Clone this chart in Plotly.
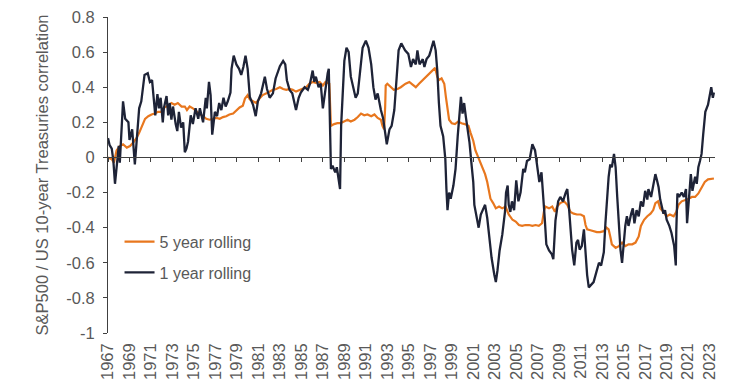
import plotly.graph_objects as go

# ---- data ----
one_year_t = [1967.0,1967.15,1967.35,1967.5,1967.65,1967.8,1968.0,1968.1,1968.4,1968.6,1968.9,1969.0,1969.25,1969.5,1969.7,1969.9,
1970.1,1970.4,1970.7,1970.9,1971.1,1971.2,1971.4,1971.6,1971.75,1971.9,1972.1,1972.2,1972.45,1972.6,1972.75,1972.9,
1973.05,1973.3,1973.45,1973.6,1973.8,1974.0,1974.15,1974.3,1974.45,1974.7,1974.9,1975.15,1975.4,1975.55,1975.85,
1976.1,1976.2,1976.4,1976.55,1976.7,1976.95,1977.15,1977.35,1977.55,1977.75,1977.95,1978.15,1978.4,1978.5,1978.7,
1978.95,1979.2,1979.4,1979.6,1979.8,1980.0,1980.2,1980.5,1980.75,1980.95,1981.25,1981.6,1981.8,1982.05,1982.35,
1982.6,1983.0,1983.3,1983.5,1983.65,1983.9,1984.15,1984.35,1984.5,1984.75,1984.95,1985.3,1985.6,1985.8,1986.05,
1986.2,1986.35,1986.6,1986.8,1987.0,1987.25,1987.45,1987.55,1987.65,1987.7,1987.75,1987.9,1988.15,1988.3,1988.45,
1988.6,1988.7,1988.85,1989.0,1989.2,1989.4,1989.6,1989.85,1990.05,1990.25,1990.4,1990.7,1991.0,1991.25,1991.5,
1991.7,1991.9,1992.1,1992.4,1992.6,1992.8,1992.95,1993.2,1993.4,1993.65,1993.85,1994.05,1994.3,1994.65,1994.95,
1995.2,1995.4,1995.65,1995.8,1996.0,1996.3,1996.45,1996.65,1996.9,1997.05,1997.3,1997.5,1997.65,1997.8,1997.95,
1998.2,1998.4,1998.5,1998.6,1998.75,1998.9,1999.15,1999.35,1999.55,1999.7,1999.85,2000.0,2000.15,2000.3,2000.45,
2000.65,2000.85,2001.0,2001.1,2001.3,2001.5,2001.7,2001.9,2002.1,2002.3,2002.5,2002.7,2002.95,2003.1,2003.25,
2003.45,2003.7,2003.95,2004.05,2004.2,2004.3,2004.45,2004.6,2004.8,2005.0,2005.2,2005.4,2005.65,2005.8,2006.0,
2006.25,2006.5,2006.75,2006.95,2007.15,2007.35,2007.5,2007.65,2007.8,2008.05,2008.3,2008.45,2008.65,2008.9,2009.1,
2009.35,2009.6,2009.75,2009.9,2010.05,2010.2,2010.4,2010.6,2010.75,2010.9,2011.1,2011.3,2011.45,2011.6,2011.75,
2012.0,2012.2,2012.45,2012.7,2012.9,2013.15,2013.3,2013.45,2013.6,2013.75,2013.9,2014.1,2014.25,2014.4,2014.55,
2014.7,2014.85,2015.0,2015.15,2015.3,2015.45,2015.7,2015.85,2016.0,2016.2,2016.4,2016.6,2016.8,2017.0,2017.2,
2017.3,2017.55,2017.75,2017.95,2018.1,2018.25,2018.4,2018.55,2018.7,2018.85,2019.0,2019.25,2019.45,2019.7,2019.85,
2019.9,2020.0,2020.15,2020.4,2020.6,2020.8,2020.9,2021.1,2021.25,2021.4,2021.65,2021.8,2021.95,2022.1,2022.25,
2022.4,2022.6,2022.85,2023.0,2023.15,2023.3,2023.4]
one_year_v = [0.11,0.07,0.05,-0.02,-0.15,-0.06,0.066,-0.03,0.32,0.22,0.2,0.10,0.16,-0.04,0.15,0.28,
0.32,0.47,0.48,0.43,0.44,0.38,0.24,0.36,0.28,0.34,0.20,0.28,0.35,0.24,0.31,0.215,
0.29,0.19,0.15,0.26,0.17,0.20,0.03,0.05,0.09,0.24,0.19,0.28,0.22,0.28,0.20,
0.34,0.28,0.43,0.355,0.13,0.26,0.235,0.31,0.27,0.34,0.29,0.32,0.37,0.505,0.58,
0.53,0.505,0.47,0.515,0.58,0.505,0.345,0.30,0.235,0.32,0.365,0.46,0.39,0.34,0.365,
0.45,0.52,0.55,0.53,0.44,0.385,0.365,0.32,0.27,0.34,0.37,0.40,0.385,0.42,0.495,
0.43,0.46,0.40,0.42,0.28,0.40,0.48,0.505,0.27,-0.01,-0.065,-0.047,-0.085,-0.056,-0.11,
-0.18,0.18,0.40,0.55,0.625,0.60,0.46,0.385,0.34,0.365,0.46,0.625,0.665,0.625,0.53,
0.40,0.33,0.365,0.27,0.225,0.14,0.075,0.16,0.18,0.27,0.44,0.61,0.65,0.61,0.59,
0.515,0.56,0.53,0.61,0.53,0.56,0.515,0.56,0.58,0.61,0.665,0.61,0.495,0.31,0.18,
0.12,-0.01,-0.18,-0.30,-0.20,-0.235,-0.16,-0.065,0.12,0.235,0.345,0.25,0.31,0.235,0.18,
0.085,-0.047,-0.14,-0.27,-0.345,-0.40,-0.325,-0.30,-0.27,-0.345,-0.46,-0.57,-0.665,-0.71,-0.645,
-0.53,-0.44,-0.31,-0.20,-0.16,-0.27,-0.31,-0.25,-0.30,-0.13,-0.25,-0.20,-0.065,-0.085,-0.02,
-0.01,0.075,0.04,-0.047,-0.14,-0.085,-0.20,-0.345,-0.495,-0.53,-0.55,-0.58,-0.36,-0.25,-0.225,
-0.25,-0.20,-0.18,-0.28,-0.39,-0.525,-0.615,-0.485,-0.47,-0.525,-0.505,-0.41,-0.54,-0.67,-0.74,
-0.72,-0.71,-0.655,-0.60,-0.615,-0.54,-0.375,-0.225,-0.11,-0.04,-0.056,0.02,-0.056,-0.225,-0.375,
-0.525,-0.60,-0.47,-0.39,-0.335,-0.39,-0.32,-0.29,-0.375,-0.30,-0.335,-0.25,-0.28,-0.19,-0.24,
-0.18,-0.225,-0.15,-0.095,-0.13,-0.17,-0.24,-0.29,-0.32,-0.30,-0.355,-0.39,-0.43,-0.505,-0.615,
-0.41,-0.205,-0.225,-0.20,-0.225,-0.18,-0.375,-0.225,-0.095,-0.19,-0.11,-0.15,-0.056,-0.02,0.02,
0.13,0.26,0.30,0.355,0.40,0.34,0.37]

five_year_t = [1967.0,1967.35,1967.55,1967.8,1968.1,1968.4,1968.75,1969.05,1969.35,1969.65,1969.9,1970.1,1970.45,1970.75,
1971.05,1971.35,1971.65,1971.95,1972.25,1972.6,1972.9,1973.2,1973.5,1973.85,1974.15,1974.35,1974.6,1974.9,1975.25,
1975.55,1975.85,1976.15,1976.45,1976.75,1977.1,1977.4,1977.7,1978.0,1978.3,1978.65,1978.95,1979.25,1979.55,1979.75,
1980.0,1980.2,1980.5,1980.8,1981.1,1981.4,1981.75,1982.05,1982.35,1982.65,1983.0,1983.3,1983.6,1983.9,1984.2,
1984.5,1984.85,1985.15,1985.45,1985.75,1986.05,1986.35,1986.7,1987.0,1987.25,1987.6,1987.7,1987.75,1988.05,1988.35,
1988.65,1989.0,1989.3,1989.6,1989.95,1990.25,1990.55,1990.85,1991.15,1991.5,1991.8,1992.1,1992.4,1992.55,1992.7,
1992.8,1992.85,1993.0,1993.35,1993.6,1993.95,1994.25,1994.7,1995.05,1995.35,1995.65,1995.95,1996.3,1996.6,1996.9,
1997.2,1997.45,1997.65,1997.8,1998.05,1998.3,1998.45,1998.6,1998.75,1999.0,1999.3,1999.6,1999.9,2000.2,2000.55,
2000.75,2001.0,2001.2,2001.45,2001.8,2002.1,2002.3,2002.45,2002.6,2002.85,2003.1,2003.4,2003.7,2004.0,2004.3,
2004.65,2004.95,2005.25,2005.55,2005.85,2006.2,2006.5,2006.8,2007.1,2007.4,2007.6,2007.7,2008.05,2008.35,2008.6,
2008.8,2009.1,2009.45,2009.75,2010.05,2010.35,2010.65,2011.0,2011.3,2011.45,2011.6,2011.9,2012.2,2012.5,2012.8,
2013.15,2013.4,2013.6,2013.75,2013.9,2014.25,2014.55,2014.85,2015.15,2015.45,2015.8,2016.1,2016.4,2016.6,2016.9,
2017.2,2017.5,2017.75,2017.95,2018.2,2018.4,2018.7,2019.0,2019.3,2019.65,2019.9,2020.1,2020.4,2020.7,2021.05,
2021.35,2021.65,2021.95,2022.25,2022.55,2022.85,2023.4]
five_year_v = [0.0,-0.01,-0.03,0.04,0.065,0.075,0.056,0.065,0.085,0.11,0.14,0.17,0.22,0.235,
0.245,0.25,0.26,0.26,0.285,0.295,0.31,0.30,0.31,0.29,0.29,0.27,0.29,0.28,0.26,
0.245,0.235,0.22,0.215,0.22,0.225,0.22,0.23,0.235,0.245,0.25,0.27,0.285,0.295,0.335,
0.355,0.33,0.32,0.31,0.335,0.355,0.365,0.375,0.385,0.39,0.40,0.39,0.385,0.39,0.385,
0.375,0.385,0.39,0.40,0.42,0.43,0.425,0.43,0.41,0.43,0.42,0.195,0.18,0.19,0.195,
0.195,0.205,0.215,0.205,0.215,0.23,0.25,0.24,0.245,0.235,0.245,0.225,0.215,0.18,0.16,
0.29,0.41,0.42,0.40,0.385,0.39,0.40,0.42,0.43,0.415,0.40,0.42,0.44,0.46,0.475,
0.495,0.51,0.46,0.44,0.45,0.42,0.345,0.27,0.215,0.195,0.19,0.205,0.195,0.19,0.18,
0.14,0.095,0.04,0.0,-0.047,-0.095,-0.14,-0.20,-0.235,-0.26,-0.29,-0.28,-0.29,-0.28,-0.325,
-0.355,-0.365,-0.385,-0.39,-0.385,-0.385,-0.39,-0.385,-0.39,-0.375,-0.30,-0.28,-0.29,-0.28,-0.31,
-0.28,-0.26,-0.25,-0.27,-0.31,-0.32,-0.325,-0.325,-0.335,-0.385,-0.41,-0.415,-0.42,-0.425,-0.425,
-0.42,-0.40,-0.41,-0.45,-0.495,-0.515,-0.505,-0.485,-0.505,-0.495,-0.495,-0.485,-0.45,-0.39,-0.355,
-0.335,-0.32,-0.30,-0.26,-0.25,-0.29,-0.31,-0.335,-0.325,-0.335,-0.31,-0.27,-0.25,-0.245,-0.235,
-0.225,-0.225,-0.205,-0.17,-0.14,-0.125,-0.12]

x_tick_years = list(range(1967, 2024, 2))
x_tick_labels = [str(y) for y in x_tick_years]
y_tick_vals = [0.8, 0.6, 0.4, 0.2, 0, -0.2, -0.4, -0.6, -0.8, -1]
y_tick_labels = ["0.8", "0.6", "0.4", "0.2", "0", "-0.2", "-0.4", "-0.6", "-0.8", "-1"]

FONT = "Liberation Sans, Arial, sans-serif"
GREY = "#595959"
AXIS = "#404040"
X_RANGE = [1967, 2023.5]

fig = go.Figure()
fig.add_trace(go.Scatter(x=five_year_t, y=five_year_v, mode="lines", name="5 year rolling",
                         line=dict(color="#E8771E", width=2.2), legendgroup="a"))
fig.add_trace(go.Scatter(x=one_year_t, y=one_year_v, mode="lines", name="1 year rolling",
                         line=dict(color="#1E2337", width=2.3), legendgroup="b"))
# helper trace that carries the axis drawn at y = 0
fig.add_trace(go.Scatter(x=x_tick_years, y=[0] * len(x_tick_years), mode="markers",
                         marker=dict(opacity=0), xaxis="x2", showlegend=False, hoverinfo="skip"))

# the page body adds an 8px offset, so the figure is sized to fit the window after it
fig.update_layout(
    width=733, height=384,
    margin=dict(l=100, r=26, t=9, b=59, autoexpand=False),
    paper_bgcolor="white", plot_bgcolor="white",
    font=dict(family=FONT, size=16, color=GREY),
    showlegend=True,
    legend=dict(x=0.019, y=0.24, xanchor="left", yanchor="middle",
                font=dict(family=FONT, size=16, color=GREY),
                bgcolor="rgba(0,0,0,0)", tracegroupgap=7, traceorder="grouped"),
    xaxis=dict(range=X_RANGE, tickmode="array", tickvals=x_tick_years, ticktext=x_tick_labels,
               tickangle=-90, showgrid=False, zeroline=False, showline=False, ticks="",
               automargin=False, ticklabeloverflow="allow",
               tickfont=dict(family=FONT, size=16.5, color=GREY), ticklabelstandoff=6),
    xaxis2=dict(range=X_RANGE, overlaying="x", anchor="free", position=1 / 1.8,
                tickmode="array", tickvals=x_tick_years, showticklabels=False, automargin=False,
                showgrid=False, zeroline=False, showline=True, linecolor=AXIS, linewidth=1,
                ticks="outside", ticklen=4, tickcolor=AXIS, tickwidth=1),
    yaxis=dict(range=[-1, 0.8], tickmode="array", tickvals=y_tick_vals, ticktext=y_tick_labels,
               showgrid=False, zeroline=False, showline=True, linecolor=AXIS, linewidth=1,
               ticks="outside", ticklen=4, tickcolor=AXIS, automargin=False,
               ticklabeloverflow="allow", ticklabelstandoff=5,
               tickfont=dict(family=FONT, size=16.5, color=GREY),
               title=dict(text="S&P500 / US 10-year Treasuries correlation",
                          font=dict(family=FONT, size=16.5, color=GREY), standoff=13)),
)

fig.write_html("out.html")
